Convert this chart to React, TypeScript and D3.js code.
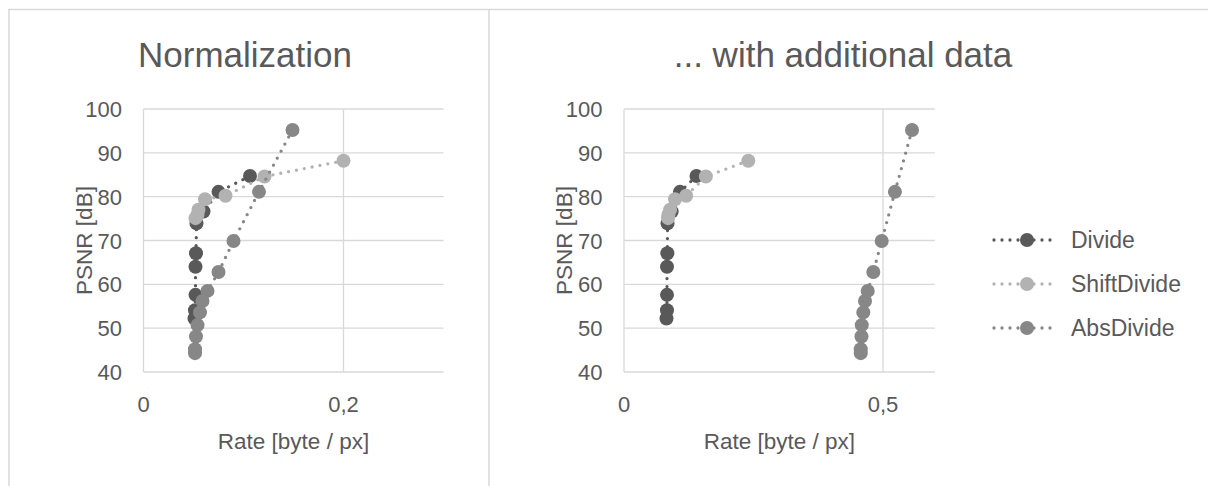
import React from 'react';
import * as d3 from 'd3';

const yTicks = [40, 50, 60, 70, 80, 90, 100];
const leftXTicks = [0, 0.2];
const rightXTicks = [0, 0.5];
const seriesNames = ['Divide', 'ShiftDivide', 'AbsDivide'];
const seriesColors = ['#595959', '#b2b2b2', '#878787'];

const dividePsnr = [84.7, 81.1, 76.6, 73.9, 67.1, 64.0, 57.6, 54.1, 52.2];
const divideRateL = [0.1065, 0.075, 0.06, 0.053, 0.0525, 0.052, 0.052, 0.0515, 0.051];
const divideRateR = [0.14, 0.108, 0.092, 0.084, 0.0837, 0.083, 0.083, 0.083, 0.082];

const shiftPsnr = [88.2, 84.6, 80.2, 79.4, 77.0, 75.9, 75.1];
const shiftRateL = [0.2, 0.121, 0.082, 0.0615, 0.055, 0.054, 0.052];
const shiftRateR = [0.24, 0.158, 0.12, 0.0985, 0.089, 0.0856, 0.085];

const absPsnr = [95.2, 81.1, 69.9, 62.8, 58.5, 56.2, 53.6, 50.7, 48.1, 45.2, 44.3];
const absRateL = [0.149, 0.1155, 0.09, 0.075, 0.064, 0.059, 0.0565, 0.054, 0.0525, 0.0515, 0.0515];
const absRateR = [0.556, 0.523, 0.4975, 0.4813, 0.4705, 0.4653, 0.462, 0.459, 0.4585, 0.457, 0.457];

const FONT = '"Liberation Sans", Arial, sans-serif';
const TEXT = '#595959';
const GRID = '#d9d9d9';
const TICK_FS = 22;
const LABEL_FS = 22.5;
const LEGEND_FS = 23;
const TITLE_FS = 35;

type Panel = {
  title: string;
  titleX: number;
  x0: number;
  x1: number;
  xMax: number;
  xTicks: number[];
  series: { rates: number[]; psnr: number[] }[];
};

const panels: Panel[] = [
  {
    title: 'Normalization',
    titleX: 245,
    x0: 143.5,
    x1: 443.5,
    xMax: 0.3,
    xTicks: leftXTicks,
    series: [
      { rates: divideRateL, psnr: dividePsnr },
      { rates: shiftRateL, psnr: shiftPsnr },
      { rates: absRateL, psnr: absPsnr },
    ],
  },
  {
    title: '... with additional data',
    titleX: 843,
    x0: 624,
    x1: 934.8,
    xMax: 0.6,
    xTicks: rightXTicks,
    series: [
      { rates: divideRateR, psnr: dividePsnr },
      { rates: shiftRateR, psnr: shiftPsnr },
      { rates: absRateR, psnr: absPsnr },
    ],
  },
];

const Y0 = 372;
const Y1 = 109;

function fmt(v: number) {
  return String(v).replace('.', ',');
}

function PanelView({ p }: { p: Panel }) {
  const x = d3.scaleLinear().domain([0, p.xMax]).range([p.x0, p.x1]);
  const y = d3.scaleLinear().domain([40, 100]).range([Y0, Y1]);
  const line = d3
    .line<[number, number]>()
    .x((d) => x(d[0]))
    .y((d) => y(d[1]));
  const cx = (p.x0 + p.x1) / 2;
  return (
    <g>
      <text x={p.titleX} y={67} textAnchor="middle" fontSize={TITLE_FS} fill={TEXT} fontFamily={FONT}>
        {p.title}
      </text>
      {yTicks.map((t) => (
        <line key={'h' + t} x1={p.x0} x2={p.x1} y1={y(t)} y2={y(t)} stroke={GRID} strokeWidth={1.3} />
      ))}
      {p.xTicks.map((t) => (
        <line key={'v' + t} x1={x(t)} x2={x(t)} y1={Y1} y2={Y0} stroke={GRID} strokeWidth={1.3} />
      ))}
      {yTicks.map((t) => (
        <text key={'yl' + t} x={p.x0 - 21.5} y={y(t) + 8} textAnchor="end" fontSize={TICK_FS} fill={TEXT} fontFamily={FONT}>
          {t}
        </text>
      ))}
      {p.xTicks.map((t) => (
        <text key={'xl' + t} x={x(t)} y={411.5} textAnchor="middle" fontSize={TICK_FS} fill={TEXT} fontFamily={FONT}>
          {fmt(t)}
        </text>
      ))}
      <text
        transform={`translate(${p.x0 - 52},${(Y0 + Y1) / 2}) rotate(-90)`}
        textAnchor="middle"
        fontSize={LABEL_FS}
        fill={TEXT}
        fontFamily={FONT}
      >
        PSNR [dB]
      </text>
      <text x={cx} y={449} textAnchor="middle" fontSize={LABEL_FS} fill={TEXT} fontFamily={FONT}>
        Rate [byte / px]
      </text>
      {p.series.map((s, i) => {
        const pts = s.rates.map((r, k) => [r, s.psnr[k]] as [number, number]);
        return (
          <g key={'s' + i}>
            <path
              d={line(pts) || ''}
              fill="none"
              stroke={seriesColors[i]}
              strokeWidth={3.3}
              strokeDasharray="0 8"
              strokeLinecap="round"
            />
            {pts.map((d, k) => (
              <circle key={k} cx={x(d[0])} cy={y(d[1])} r={7} fill={seriesColors[i]} />
            ))}
          </g>
        );
      })}
    </g>
  );
}

export default function App() {
  const legendY = [240, 284, 328];
  return (
    <svg
      width={1208}
      height={486}
      style={{ position: 'absolute', left: 0, top: 0, background: '#fff' }}
    >
      <rect x={0} y={0} width={1208} height={486} fill="#fff" />
      <line x1={8} x2={1208} y1={9.5} y2={9.5} stroke={GRID} strokeWidth={1.5} />
      <line x1={9} x2={9} y1={9} y2={486} stroke={GRID} strokeWidth={1.5} />
      <line x1={489} x2={489} y1={9} y2={486} stroke={GRID} strokeWidth={1.5} />
      {panels.map((p, i) => (
        <PanelView key={i} p={p} />
      ))}
      {seriesNames.map((n, i) => (
        <g key={n}>
          <line
            x1={994}
            x2={1057}
            y1={legendY[i]}
            y2={legendY[i]}
            stroke={seriesColors[i]}
            strokeWidth={3.3}
            strokeDasharray="0 8"
            strokeLinecap="round"
          />
          <circle cx={1027} cy={legendY[i]} r={7} fill={seriesColors[i]} />
          <text x={1071} y={legendY[i] + 8} fontSize={LEGEND_FS} fill={TEXT} fontFamily={FONT}>
            {n}
          </text>
        </g>
      ))}
    </svg>
  );
}
